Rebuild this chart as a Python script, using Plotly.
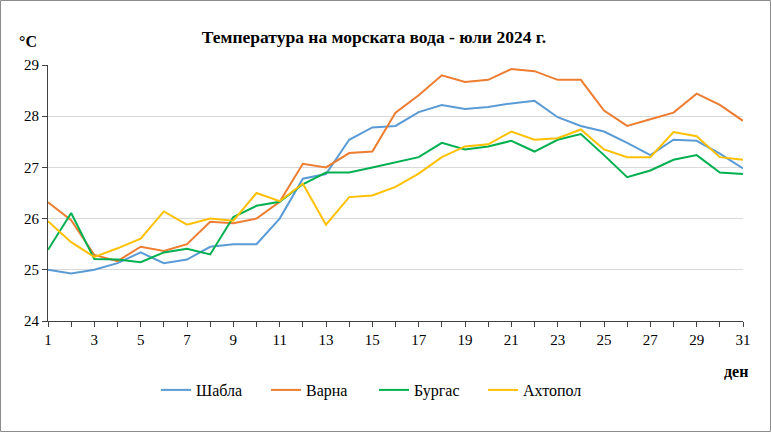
import plotly.graph_objects as go

days = list(range(1, 32))
shabla = [25.0, 24.93, 25.0, 25.13, 25.34, 25.13, 25.2, 25.45, 25.5, 25.5, 26.0,
          26.78, 26.87, 27.54, 27.78, 27.81, 28.08, 28.22, 28.14, 28.18, 28.25, 28.3,
          27.98, 27.81, 27.7, 27.48, 27.24, 27.54, 27.52, 27.27, 26.98]
varna = [26.32, 25.97, 25.29, 25.17, 25.45, 25.37, 25.5, 25.94, 25.91, 26.0, 26.33,
         27.07, 27.0, 27.28, 27.31, 28.07, 28.41, 28.8, 28.67, 28.71, 28.92, 28.88,
         28.71, 28.71, 28.11, 27.81, 27.94, 28.07, 28.44, 28.22, 27.91]
burgas = [25.39, 26.11, 25.21, 25.2, 25.15, 25.34, 25.41, 25.3, 26.03, 26.25, 26.33,
          26.67, 26.9, 26.9, 27.0, 27.1, 27.2, 27.48, 27.35, 27.41, 27.52, 27.31,
          27.54, 27.65, 27.24, 26.81, 26.94, 27.15, 27.24, 26.9, 26.87]
ahtopol = [25.95, 25.54, 25.25, 25.42, 25.61, 26.14, 25.88, 26.0, 25.96, 26.5, 26.34,
           26.68, 25.88, 26.42, 26.45, 26.62, 26.88, 27.2, 27.41, 27.45, 27.7, 27.54,
           27.57, 27.74, 27.35, 27.2, 27.2, 27.69, 27.61, 27.2, 27.15]

series_names = ["Шабла", "Варна", "Бургас", "Ахтопол"]
series_values = [shabla, varna, burgas, ahtopol]
colors = ["#5B9BD5", "#ED7D31", "#00B050", "#FFC000"]

x_tick_labels = list(range(1, 32, 2))
y_ticks = [24, 25, 26, 27, 28, 29]

FONT = "Liberation Serif, Times New Roman, Times, serif"
W, H = 771, 432
ML, MR, MT, MB = 48, 28, 65, 111
PW, PH = W - ML - MR, H - MT - MB

# legend text start pixels (layout), one legend per series
legend_text_x = [198, 308, 416, 525]
legend_ids = ["legend", "legend2", "legend3", "legend4"]

fig = go.Figure()
for name, vals, col, lid in zip(series_names, series_values, colors, legend_ids):
    fig.add_trace(go.Scatter(x=days, y=vals, name=name, mode="lines",
                             line=dict(color=col, width=2), legend=lid))

legend_layout = {}
for lid, tx in zip(legend_ids, legend_text_x):
    legend_layout[lid] = dict(
        orientation="h", x=(tx - 42 - ML) / PW, xanchor="left",
        y=-(390 - MT - PH) / PH, yanchor="middle",
        font=dict(family=FONT, size=16, color="black"),
        bgcolor="rgba(0,0,0,0)", borderwidth=0)

fig.update_layout(
    width=W, height=H,
    margin=dict(l=ML, r=MR, t=MT, b=MB, autoexpand=False),
    paper_bgcolor="white", plot_bgcolor="white",
    font=dict(family=FONT, size=14, color="black"),
    title=dict(text="<b>Температура на морската вода - юли 2024 г.</b>",
               x=374 / W, xanchor="center", y=1 - 37 / H, yanchor="middle",
               font=dict(family=FONT, size=17.5, color="black")),
    showlegend=True,
    xaxis=dict(range=[1, 31], tickvals=x_tick_labels, ticktext=[str(v) for v in x_tick_labels],
               showgrid=False, zeroline=False, showline=True, linecolor="#404040", linewidth=1,
               ticks="outside", ticklen=5, tickcolor="#404040",
               minor=dict(dtick=1, tick0=1, ticks="outside", ticklen=5, tickcolor="#404040"),
               tickfont=dict(family=FONT, size=15, color="black")),
    yaxis=dict(range=[24, 29], tickvals=y_ticks, showgrid=True, gridcolor="#D9D9D9", gridwidth=1,
               zeroline=False, showline=True, linecolor="#404040", linewidth=1,
               ticks="outside", ticklen=5, tickcolor="#404040",
               tickfont=dict(family=FONT, size=15, color="black")),
    annotations=[
        dict(text="<b>°C</b>", xref="paper", yref="paper",
             x=(28 - ML) / PW, y=1 + (MT - 41) / PH, xanchor="center", yanchor="middle",
             showarrow=False, font=dict(family=FONT, size=16, color="black")),
        dict(text="<b>ден</b>", xref="paper", yref="paper",
             x=(736 - ML) / PW, y=-(371 - MT - PH) / PH, xanchor="center", yanchor="middle",
             showarrow=False, font=dict(family=FONT, size=16, color="black")),
    ],
    shapes=[dict(type="rect", xref="paper", yref="paper",
                 x0=(0.5 - ML) / PW, x1=(W - 0.5 - ML) / PW,
                 y0=-(H - 0.5 - MT - PH) / PH, y1=1 + (MT - 0.5) / PH,
                 line=dict(color="#8C8C8C", width=1), fillcolor="rgba(0,0,0,0)", layer="below")],
    **legend_layout,
)

fig.write_html("out.html", config={"displayModeBar": False},
               post_script="document.body.style.margin='0';document.body.style.padding='0';")
